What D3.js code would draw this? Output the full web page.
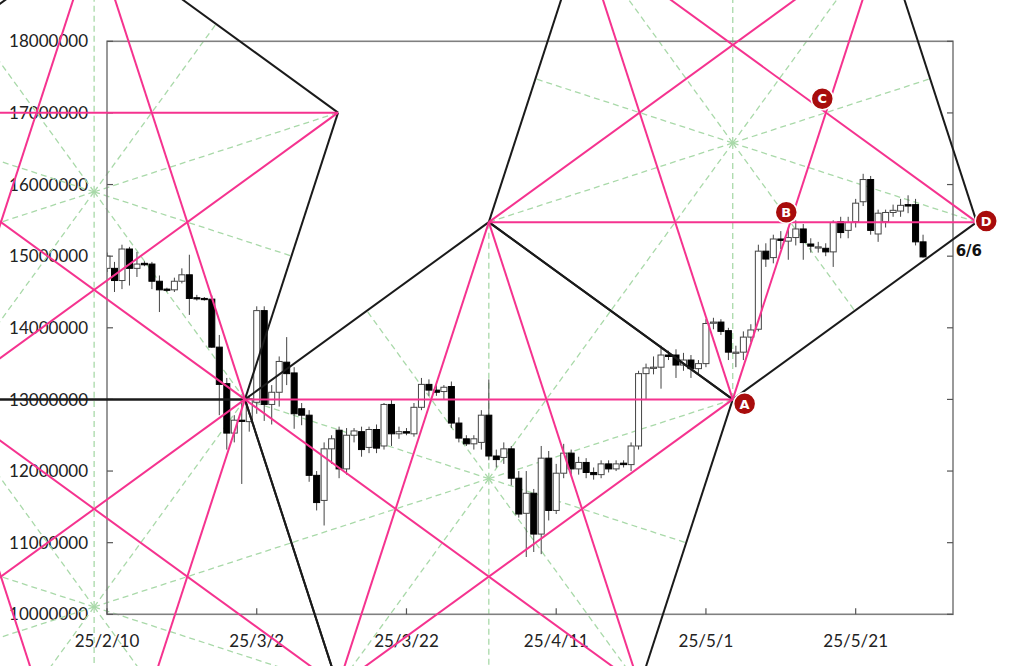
<!DOCTYPE html>
<html><head><meta charset="utf-8">
<script src="https://cdn.jsdelivr.net/npm/d3@7"></script>
<style>body{margin:0;background:#fff}svg{display:block}</style>
</head><body>
<svg id="chart" width="1024" height="666"></svg>
<script>
// ---------- data ----------
const startDate = "2025-02-10";          // first candle
const endDate = "2025-06-03";            // right edge of the time axis
// daily OHLC, millions of JPY
const opens  = [14.83,14.83,14.66,15.10,14.83,14.90,14.89,14.65,14.54,14.53,14.65,14.74,14.42,14.41,14.40,13.73,13.22,12.53,12.71,12.69,12.96,14.24,12.93,13.10,13.52,13.37,12.87,12.78,11.94,11.59,12.31,12.57,12.03,12.50,12.55,12.33,12.58,12.35,12.93,12.52,12.55,12.52,12.89,13.21,13.13,13.11,13.18,12.67,12.45,12.38,12.40,12.78,12.21,12.19,12.31,11.90,11.41,11.69,11.12,12.18,11.45,11.97,12.25,12.03,12.12,11.98,11.95,12.10,12.03,12.11,12.09,12.35,13.36,13.45,13.45,13.62,13.62,13.48,13.55,13.43,13.50,14.07,14.08,13.96,13.66,13.66,13.87,13.98,15.07,14.98,15.24,15.21,15.26,15.38,15.17,15.13,15.11,15.06,15.48,15.36,15.48,15.76,16.07,15.31,15.48,15.61,15.63,15.72,15.72,15.20];
const highs  = [15.05,14.92,15.16,15.13,15.06,14.93,14.92,14.73,14.56,14.70,14.83,15.02,14.46,14.43,14.45,13.90,13.30,12.78,12.95,13.05,14.30,14.30,13.20,13.60,13.87,13.45,12.95,12.85,12.00,12.40,12.50,12.62,12.60,12.60,12.62,12.62,12.65,12.95,13.00,12.62,12.60,12.95,13.30,13.28,13.20,13.20,13.25,12.75,12.50,12.50,12.85,13.28,12.30,12.40,12.35,12.00,12.00,11.75,12.35,12.28,12.10,12.38,12.30,12.20,12.18,12.05,12.15,12.15,12.15,12.15,12.40,13.40,13.50,13.60,13.75,13.68,13.70,13.65,13.62,13.55,14.12,14.14,14.12,14.00,13.75,13.95,14.05,15.16,15.18,15.30,15.35,15.40,15.50,15.45,15.25,15.20,15.18,15.50,15.55,15.55,15.80,16.15,16.12,15.65,15.65,15.72,15.80,15.85,15.80,15.30];
const lows   = [14.78,14.50,14.54,14.59,14.71,14.86,14.54,14.22,14.50,14.50,14.62,14.18,14.38,14.38,13.72,12.78,12.30,12.40,11.82,12.55,12.80,12.70,12.65,12.90,13.20,12.59,12.64,11.85,11.45,11.24,12.10,11.90,11.95,12.40,12.20,12.25,12.25,12.30,12.35,12.45,12.50,12.48,12.85,13.05,13.05,13.00,12.60,12.40,12.35,12.30,12.30,12.15,12.05,12.10,11.80,11.35,10.80,10.87,10.84,11.31,11.40,11.90,11.95,11.95,11.90,11.88,11.90,11.98,12.00,12.05,12.00,12.30,13.00,13.35,13.15,13.55,13.30,13.40,13.30,13.35,13.45,13.98,13.90,13.55,13.45,13.55,13.80,13.95,14.85,14.90,15.10,14.95,15.15,14.95,15.05,15.05,15.00,14.85,15.25,15.25,15.40,15.70,15.30,15.20,15.40,15.55,15.55,15.60,15.15,14.98];
const closes = [15.00,14.66,15.10,14.83,14.89,14.88,14.65,14.53,14.53,14.65,14.74,14.41,14.41,14.40,13.73,13.21,12.53,12.71,12.70,13.01,14.24,12.93,13.10,13.53,13.36,12.80,12.78,11.94,11.56,12.31,12.45,12.03,12.50,12.56,12.30,12.58,12.32,12.93,12.52,12.55,12.53,12.89,13.21,13.13,13.10,13.17,12.67,12.46,12.38,12.45,12.78,12.21,12.16,12.31,11.90,11.40,11.69,11.12,12.18,11.45,11.97,12.25,12.03,12.12,11.98,11.95,12.10,12.03,12.10,12.09,12.35,13.36,13.44,13.45,13.62,13.60,13.48,13.55,13.43,13.50,14.06,14.08,13.95,13.66,13.66,13.87,13.97,15.07,14.96,15.24,15.22,15.26,15.38,15.19,15.14,15.13,15.06,15.47,15.33,15.47,15.74,16.07,15.36,15.60,15.61,15.64,15.71,15.70,15.20,14.99];

const yTickValues = [10,11,12,13,14,15,16,17,18];           // millions
const xTickDates  = ["2025-02-10","2025-03-02","2025-03-22","2025-04-11","2025-05-01","2025-05-21"];
const xTickLabels = ["25/2/10","25/3/2","25/3/22","25/4/11","25/5/1","25/5/21"];

// pentagon overlay: [days after startDate, price in millions]
const pentagonCenters = [[-1.72,15.898],[-1.72,10.103],[51.00,11.894],[83.58,16.581]];
const pentagonVertices = [
  [[-1.72,19.479],[30.86,17.004],[18.42,13.000],[-21.86,13.000],[-34.30,17.004]],
  [[18.42,13.000],[30.86,8.997],[-1.72,6.522],[-34.30,8.997],[-21.86,13.000]],
  [[51.00,15.475],[83.58,13.000],[71.14,8.997],[30.86,8.997],[18.42,13.000]],
  [[83.58,13.000],[116.17,15.475],[103.72,19.479],[63.45,19.479],[51.00,15.475]]
];
const markerLabels = ["A","B","C","D"];
const markerPoints = [[85.17,12.940],[90.73,15.613],[95.54,17.199],[117.44,15.491]];
const noteText = "6/6";
const notePoint = [113.36,15.002];

// ---------- drawing ----------
const svg = d3.select("#chart");
const W = 1024, H = 666;
const plot = {left:107, right:953, top:41.3, bottom:614.3};
const t0 = d3.utcParse("%Y-%m-%d")(startDate);
const dayToDate = d => new Date(t0.getTime() + d*864e5);
const x = d3.scaleUtc().domain([t0, d3.utcParse("%Y-%m-%d")(endDate)]).range([plot.left, plot.right]);
const y = d3.scaleLinear().domain([10,18]).range([plot.bottom, plot.top]);
const px = p => [x(dayToDate(p[0])), y(p[1])];

svg.append("rect").attr("width",W).attr("height",H).attr("fill","#fff");

// axis labels
const fontFam = "Lato, 'Open Sans', sans-serif";
svg.append("g").selectAll("text").data(yTickValues).join("text")
  .attr("x", 88).attr("y", d => y(d)).attr("dy","0.36em")
  .attr("text-anchor","end").attr("font-family",fontFam).attr("font-size",17).attr("fill","#222")
  .text(d => d3.format("d")(Math.round(d*1e6)));
svg.append("g").selectAll("text").data(xTickDates).join("text")
  .attr("x", d => x(d3.utcParse("%Y-%m-%d")(d))).attr("y", 647)
  .attr("text-anchor","middle").attr("font-family",fontFam).attr("font-size",17).attr("fill","#222")
  .text((d,i) => xTickLabels[i]);

// green dashed rays
const gRays = svg.append("g");
pentagonCenters.forEach((c,k) => {
  const v = pentagonVertices[k];
  const targets = [];
  v.forEach((p,i) => {
    const q = v[(i+1)%5];
    targets.push(p);
    targets.push([(p[0]+q[0])/2,(p[1]+q[1])/2]);
  });
  targets.forEach(t => {
    const a = px(c), b = px(t);
    gRays.append("line").attr("x1",a[0]).attr("y1",a[1]).attr("x2",b[0]).attr("y2",b[1])
      .attr("stroke","#a9d9a9").attr("stroke-width",1.3).attr("stroke-dasharray","6,4");
  });
});

// frame
svg.append("rect").attr("x",plot.left).attr("y",plot.top)
  .attr("width",plot.right-plot.left).attr("height",plot.bottom-plot.top)
  .attr("fill","none").attr("stroke","#808080").attr("stroke-width",1.6);
// ticks
const tk = svg.append("g").attr("stroke","#555").attr("stroke-width",1.2);
yTickValues.forEach(v => {
  tk.append("line").attr("x1",plot.left).attr("x2",plot.left+6).attr("y1",y(v)).attr("y2",y(v));
  tk.append("line").attr("x1",plot.right).attr("x2",plot.right-6).attr("y1",y(v)).attr("y2",y(v));
});
xTickDates.forEach(d => {
  const xx = x(d3.utcParse("%Y-%m-%d")(d));
  tk.append("line").attr("x1",xx).attr("x2",xx).attr("y1",plot.bottom).attr("y2",plot.bottom-6);
});

// candles
svg.append("clipPath").attr("id","clip").append("rect")
  .attr("x",plot.left).attr("y",plot.top).attr("width",plot.right-plot.left).attr("height",plot.bottom-plot.top);
const candles = opens.map((o,i) => ({date:d3.utcDay.offset(t0,i), o, h:highs[i], l:lows[i], c:closes[i]}));
const cg = svg.append("g").attr("clip-path","url(#clip)");
const bw = 6;
cg.selectAll("line.w").data(candles).join("line").attr("class","w")
  .attr("x1",d=>x(d.date)).attr("x2",d=>x(d.date)).attr("y1",d=>y(d.h)).attr("y2",d=>y(d.l))
  .attr("stroke","#444").attr("stroke-width",1);
cg.selectAll("rect.b").data(candles).join("rect").attr("class","b")
  .attr("x",d=>x(d.date)-bw/2).attr("width",bw)
  .attr("y",d=>y(Math.max(d.o,d.c)))
  .attr("height",d=>Math.max(1.2, Math.abs(y(d.o)-y(d.c))))
  .attr("fill",d=>d.c>=d.o?"#fff":"#000")
  .attr("stroke",d=>d.c>=d.o?"#444":"#000").attr("stroke-width",1);

// pentagon edges (black) and pentagram diagonals (pink)
const lg = svg.append("g").attr("fill","none");
pentagonVertices.forEach(v => {
  v.forEach((p,i) => {
    const a = px(p), b = px(v[(i+1)%5]);
    lg.append("line").attr("x1",a[0]).attr("y1",a[1]).attr("x2",b[0]).attr("y2",b[1])
      .attr("stroke","#1a1a1a").attr("stroke-width",2);
  });
});
pentagonVertices.forEach(v => {
  v.forEach((p,i) => {
    const a = px(p), b = px(v[(i+2)%5]);
    lg.append("line").attr("x1",a[0]).attr("y1",a[1]).attr("x2",b[0]).attr("y2",b[1])
      .attr("stroke","#f5338f").attr("stroke-width",2);
  });
});

// markers
const mg = svg.append("g");
markerPoints.forEach((p,i) => {
  const a = px(p);
  mg.append("circle").attr("cx",a[0]).attr("cy",a[1]).attr("r",11)
    .attr("fill","#a80c0c").attr("stroke","#fff").attr("stroke-width",1.5);
  mg.append("text").attr("x",a[0]).attr("y",a[1]).attr("dy","0.37em").attr("text-anchor","middle")
    .attr("font-family","'DejaVu Sans', sans-serif").attr("font-weight","bold").attr("font-size",13)
    .attr("fill","#fff").text(markerLabels[i]);
});
const np = px(notePoint);
svg.append("text").attr("x",np[0]).attr("y",np[1])
  .attr("font-family","'DejaVu Sans', sans-serif").attr("font-weight","bold").attr("font-size",15)
  .attr("fill","#111").text(noteText);
</script>
</body></html>
